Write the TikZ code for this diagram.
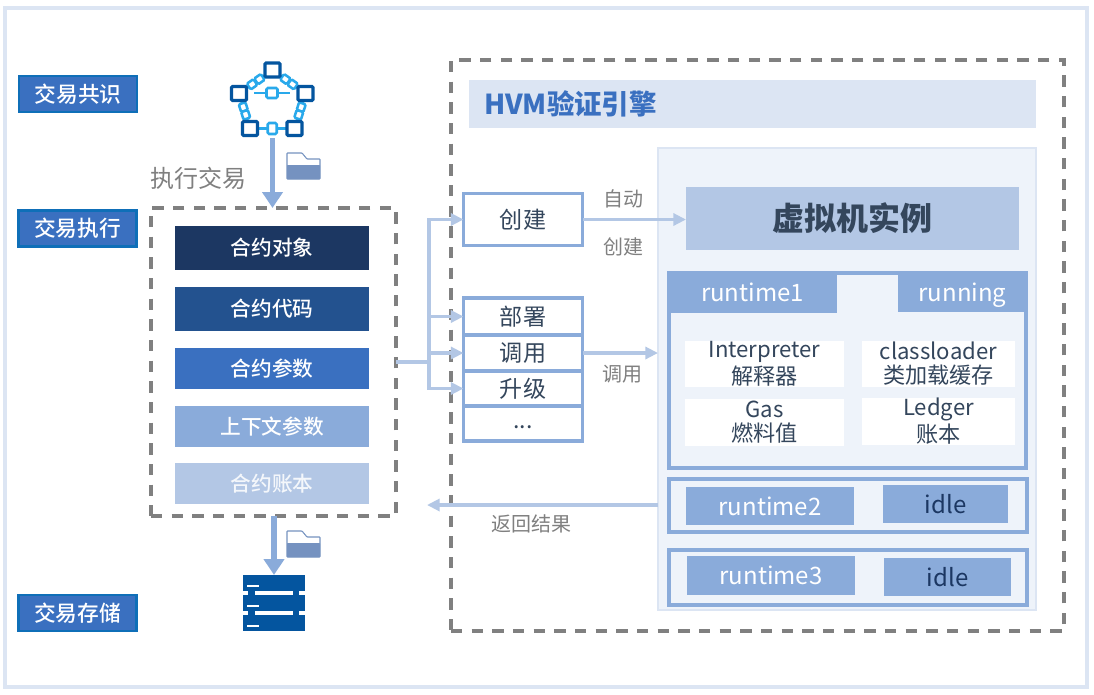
\documentclass[tikz,border=0pt]{standalone}
\usepackage{fontspec}
\setmainfont{Noto Sans CJK SC}
\newfontfamily\medfont{Noto Sans CJK SC Medium}
\usetikzlibrary{positioning,arrows.meta,calc}
\definecolor{frameC}{HTML}{DCE5F3}
\definecolor{panelC}{HTML}{EEF3FA}
\definecolor{tagC}{HTML}{3A70C0}
\definecolor{tagEdge}{HTML}{0F6FB8}
\definecolor{midC}{HTML}{8AABDA}
\definecolor{softC}{HTML}{B3C7E5}
\definecolor{navyC}{HTML}{1C3762}
\definecolor{deepC}{HTML}{23528F}
\definecolor{inkC}{HTML}{34465C}
\definecolor{greyC}{HTML}{808080}
\definecolor{linkC}{HTML}{29A9EB}
\definecolor{iconC}{HTML}{04559F}
\definecolor{folderC}{HTML}{7592C0}
\newcommand{\txt}[1]{\fontsize{#1}{#1}\selectfont}
\newcommand{\twoline}[2]{\rule{0pt}{14pt}#1\\[1.5pt]#2\rule[-3pt]{0pt}{3pt}}
\tikzset{
  bx/.style 2 args={minimum width=#1*0.75pt,minimum height=#2*0.75pt,inner sep=0pt,outer sep=0pt},
  tagbox/.style={bx={118}{36},draw=tagEdge,line width=2pt,fill=tagC,text=white,font=\medfont\txt{16.3}},
  rowbox/.style={bx={194}{#1},text=white,font=\medfont\txt{15.5}},
  opbox/.style={bx={119}{#1},draw=midC,line width=2.6pt,fill=white,text=inkC,font=\txt{17.3}},
  dashbox/.style={draw=greyC,line width=2.4pt,dash pattern=on 8.5pt off 7pt},
  headbox/.style={fill=midC,text=white,font=\txt{18},text height=16pt,text depth=2pt},
  whitebox/.style={fill=white},
  wbtext/.style={text=inkC,font=\txt{16.6},align=center,inner sep=0pt},
  rtframe/.style={draw=midC,line width=2.6pt},
  note/.style={text=greyC,font=\txt{15}},
  flow/.style={draw=softC,line width=2.6pt,-{Triangle[length=9.5pt,width=9pt]}},
  bigflow/.style={draw=midC,line width=4pt,-{Triangle[length=12pt,width=15pt]}},
  chainnode/.style={bx={15}{14},draw=iconC,line width=2.4pt,fill=white,rounded corners=0.8pt},
  chainlink/.style={bx={8}{7},draw=linkC,line width=1.9pt,fill=white,rounded corners=1pt},
  chainline/.style={draw=linkC,line width=1.9pt},
}
\begin{document}
\begin{tikzpicture}[x=0.75pt,y=-0.75pt]
  \useasboundingbox (0,0) rectangle (1094,694);
  \fill[white] (0,0) rectangle (1094,694);
  \draw[frameC,line width=2.6pt] (5,8) rectangle (1087,687);

  % left tags
  \node[tagbox] (tagCons) at (78,94) {交易共识};
  \node[tagbox] (tagExec) at (77.5,228.5) {交易执行};
  \node[tagbox] (tagStore) at (77.5,613) {交易存储};

  % consensus icon
  \coordinate (nT) at (272.5,70); \coordinate (nL) at (239,93.5);
  \coordinate (nR) at (305.5,93.5); \coordinate (nA) at (250,128.5);
  \coordinate (nB) at (294.5,128.5);
  \foreach \u/\v in {nT/nL,nT/nR,nL/nA,nR/nB}
    \draw[chainline] (\u) -- (\v)
      node[chainlink,sloped,pos=.39] {} node[chainlink,sloped,pos=.61] {};
  \draw[chainline] (nA) -- (nB) node[chainlink,pos=.5,bx={9}{11}] {};
  \coordinate (mL) at (254,93); \coordinate (mR) at (290,93);
  \draw[chainline] (mL) -- (mR) node[chainlink,pos=.5,bx={11}{10}] {};
  \foreach \p in {nT,nL,nR,nA,nB} \node[chainnode] at (\p) {};

  % execution box
  \node[dashbox,bx={245}{308}] (execBox) at (273.5,362) {};
  \node[rowbox=44,fill=navyC] (rowA) at (272,248) {合约对象};
  \node[rowbox=44,fill=deepC] (rowB) at (272,309) {合约代码};
  \node[rowbox=41,fill=tagC] (rowC) at (272,368.5) {合约参数};
  \node[rowbox=41,fill=midC] (rowD) at (272,426.5) {上下文参数};
  \node[rowbox=41,fill=softC,text=white!85!softC] (rowE) at (272,483.5) {合约账本};
  \node[note,font=\txt{18}] (execNote) at (198.5,178) {执行交易};

  % storage icon
  \node[bx={62}{56},fill=iconC] (store) at (274,603) {};
  \foreach \y in {586,606,626} \draw[white,line width=1.5pt] (247,\y) -- (259,\y);
  \foreach \y in {593,613}{
    \draw[white,line width=2.4pt] (243,\y) -- (248,\y);
    \draw[white,line width=2.4pt] (255,\y) -- (293,\y);
    \draw[white,line width=2.4pt] (299,\y) -- (305,\y);
  }

  % arrows on the left column
  \coordinate (netOut) at (272.5,138);
  \draw[bigflow] (netOut) -- (netOut |- execBox.north);
  \draw[bigflow] (store.north |- execBox.south) -- (store.north);

  % folders
  \foreach \x/\y in {287/153,287/531}{
    \draw[folderC,line width=0.8pt,fill=white,rounded corners=0.5pt]
      (\x,\y+26) -- (\x,\y) -- (\x+15,\y) -- (\x+20,\y+6) -- (\x+33,\y+6) -- (\x+33,\y+26) -- cycle;
    \fill[folderC,rounded corners=0.5pt] (\x,\y+12) rectangle (\x+33,\y+26);
  }

  % engine box
  \node[dashbox,bx={613}{571}] (hvmBox) at (757.5,345.5) {};
  \node[bx={567}{48},fill=frameC,text=tagC,font=\txt{20.6}\bfseries,anchor=west,text width=537*0.75pt,align=left] (hvmTitle) at (469,104) {HVM验证引擎};
  \node[bx={378}{462},draw=frameC,line width=1.9pt,fill=panelC] (vmPanel) at (847,379) {};
  \node[bx={333}{63},fill=softC,text=inkC,font=\txt{24}\bfseries] (vmInst) at (852.5,218.5) {虚拟机实例};

  % operations
  \node[opbox=52] (opCreate) at (523,219.5) {创建};
  \node[opbox=37] (opDeploy) at (523,316.5) {部署};
  \node[opbox=36] (opCall) at (523,353) {调用};
  \node[opbox=35] (opUp) at (523,388.5) {升级};
  \node[opbox=35] (opMore) at (523,423.5) {\raisebox{-4pt}[0pt][0pt]{...}};

  % runtime1
  \node[rtframe,bx={357}{195}] (rtA) at (847.5,370.5) {};
  \node[headbox,bx={169}{41}] (rtAName) at (752.5,292.5) {runtime1};
  \node[headbox,bx={129}{40}] (rtAState) at (962.5,292) {running};
  \node[whitebox,bx={159}{46}] (bInterp) at (764.5,364) {};
  \node[whitebox,bx={153}{46}] (bLoader) at (938.5,364) {};
  \node[whitebox,bx={159}{47}] (bGas) at (764.5,422.5) {};
  \node[whitebox,bx={153}{47}] (bLedger) at (938.5,421.5) {};
  \node[wbtext] at (bInterp) {\twoline{Interpreter}{解释器}};
  \node[wbtext] at (bLoader) {\twoline{classloader}{类加载缓存}};
  \node[wbtext] at (bGas) {\twoline{Gas}{燃料值}};
  \node[wbtext] at (bLedger) {\twoline{Ledger}{账本}};

  % runtime2, runtime3
  \node[rtframe,bx={358}{53}] (rtB) at (848,505.5) {};
  \node[headbox,bx={168}{38}] (rtBName) at (770,506) {runtime2};
  \node[headbox,bx={125}{38},text=navyC] (rtBState) at (945.5,504) {idle};
  \node[rtframe,bx={358}{55}] (rtC) at (848,577.5) {};
  \node[headbox,bx={168}{39}] (rtCName) at (771,575.5) {runtime3};
  \node[headbox,bx={127}{38},text=navyC] (rtCState) at (947.5,577) {idle};

  % connectors
  \coordinate (fork) at (429,362);
  \draw[softC,line width=2.6pt] (execBox.east) -- (fork);
  \foreach \t in {opCreate,opDeploy,opCall,opUp}
    \draw[flow] (fork) |- (\t.west);
  \draw[flow] (opCreate.east) -- (vmInst.west |- opCreate.east);
  \draw[flow] (opCall.east) -- (vmPanel.west |- opCall.east);
  \coordinate (backEnd) at (427,505);
  \draw[flow] (vmPanel.west |- backEnd) -- (backEnd);

  % connector labels
  \node[note] (noteAuto) at (623,199) {自动};
  \node[note] (noteMake) at (623,247) {创建};
  \node[note] (noteCall) at (622,374) {调用};
  \node[note] (noteBack) at (531,524) {返回结果};
\end{tikzpicture}
\end{document}
